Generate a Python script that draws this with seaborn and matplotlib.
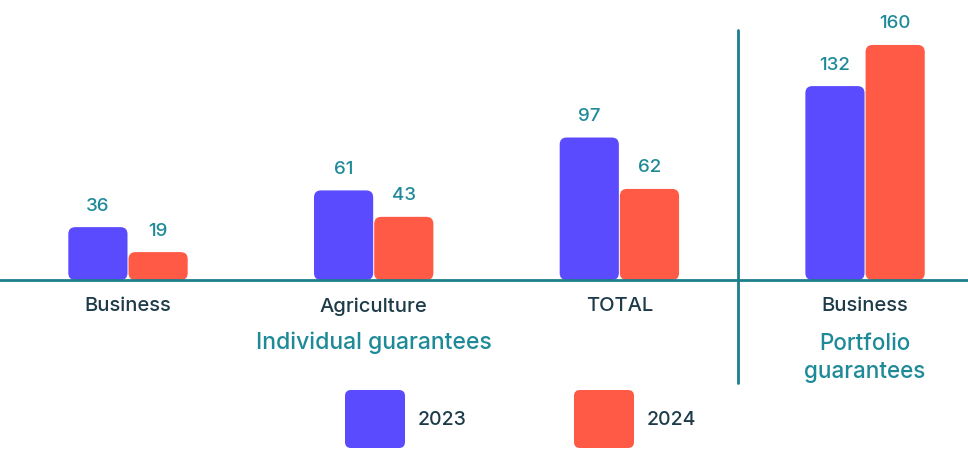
import matplotlib
matplotlib.use("Agg")
import matplotlib.pyplot as plt
from matplotlib.patches import FancyBboxPatch
import seaborn as sns
import pandas as pd

# Guarantee volumes by category and year
groups = ["Individual guarantees", "Individual guarantees", "Individual guarantees", "Portfolio guarantees"]
categories = ["Business", "Agriculture", "TOTAL", "Business"]
years = ["2023", "2024"]
values_2023 = [36, 61, 97, 132]
values_2024 = [19, 43, 62, 160]

PURPLE = "#5B4BFF"
RED = "#FF5A45"
TEAL = "#1B7F8C"
LABEL_TEAL = "#1E8A98"
DARK = "#1D3B48"

keys = [f"{g} / {c}" for g, c in zip(groups, categories)]
df = pd.DataFrame({
    "key": keys * 2,
    "year": [years[0]] * 4 + [years[1]] * 4,
    "value": values_2023 + values_2024,
})

sns.set_theme(style="white")
plt.rcParams["font.family"] = ["Inter", "DejaVu Sans"]

W, H = 968, 450
fig = plt.figure(figsize=(W / 100, H / 100), dpi=100)
ax = fig.add_axes([0, 0, 1, 1])

sns.barplot(data=df, x="key", y="value", hue="year", order=keys,
            palette=[PURPLE, RED], width=0.49, saturation=1,
            legend=False, ax=ax)

x_lo, x_hi = -0.521, 3.419
y_lo, y_hi = -115.7, 190.6
ax.set_xlim(x_lo, x_hi)
ax.set_ylim(y_lo, y_hi)

# pixel-per-unit factors for rounded corners
px_x = W / (x_hi - x_lo)
px_y = H / (y_hi - y_lo)
radius_px = 7

for container in ax.containers:
    ax.bar_label(container, fmt="%d", padding=9, fontsize=13.5,
                 color=LABEL_TEAL, fontweight="medium")

for rect in list(ax.patches):
    x, y = rect.get_x(), rect.get_y()
    w, h = rect.get_width(), rect.get_height()
    color = rect.get_facecolor()
    rect.remove()
    inset = 0.5 / px_x
    ax.add_patch(FancyBboxPatch(
        (x + inset, y), w - 2 * inset, h,
        boxstyle=f"round,pad=0,rounding_size={radius_px / px_x}",
        mutation_aspect=px_x / px_y,
        facecolor=color, edgecolor="none", zorder=2))

# baseline and divider
ax.axhline(0, color=TEAL, lw=2.0, zorder=3)
ax.plot([2.483, 2.483], [170.2, -70.1], color=TEAL, lw=2.0, zorder=3)

# category labels hang just below the zero line
ax.spines["bottom"].set_position(("data", 0))
ax.set_xticks(range(len(categories)))
ax.set_xticklabels(categories, fontsize=14.5, color=DARK, fontweight="medium")
ax.tick_params(axis="x", length=0, pad=12.5)
ax.tick_params(axis="y", left=False, labelleft=False)
ax.set_xlabel("")
ax.set_ylabel("")
for s in ax.spines.values():
    s.set_color("none")
    s.set_linewidth(0)

ax.text(1, -42.9, "Individual guarantees", ha="center", va="center",
        fontsize=16.5, color=LABEL_TEAL, fontweight="medium")
ax.text(3, -52.8, "Portfolio\nguarantees", ha="center", va="center",
        fontsize=16.2, color=LABEL_TEAL, fontweight="medium", linespacing=1.35)

# legend drawn in pixel space
lax = fig.add_axes([0, 0, 1, 1], facecolor="none")
lax.set_xlim(0, W)
lax.set_ylim(H, 0)
lax.axis("off")
for x0, col, lab in [(345, PURPLE, years[0]), (574, RED, years[1])]:
    lax.add_patch(FancyBboxPatch((x0, 390), 60, 58,
                                 boxstyle="round,pad=0,rounding_size=6",
                                 facecolor=col, edgecolor="none"))
    lax.text(x0 + 73, 420, lab, ha="left", va="center", fontsize=14,
             color=DARK, fontweight="medium")

fig.savefig("out.png", dpi=100)
